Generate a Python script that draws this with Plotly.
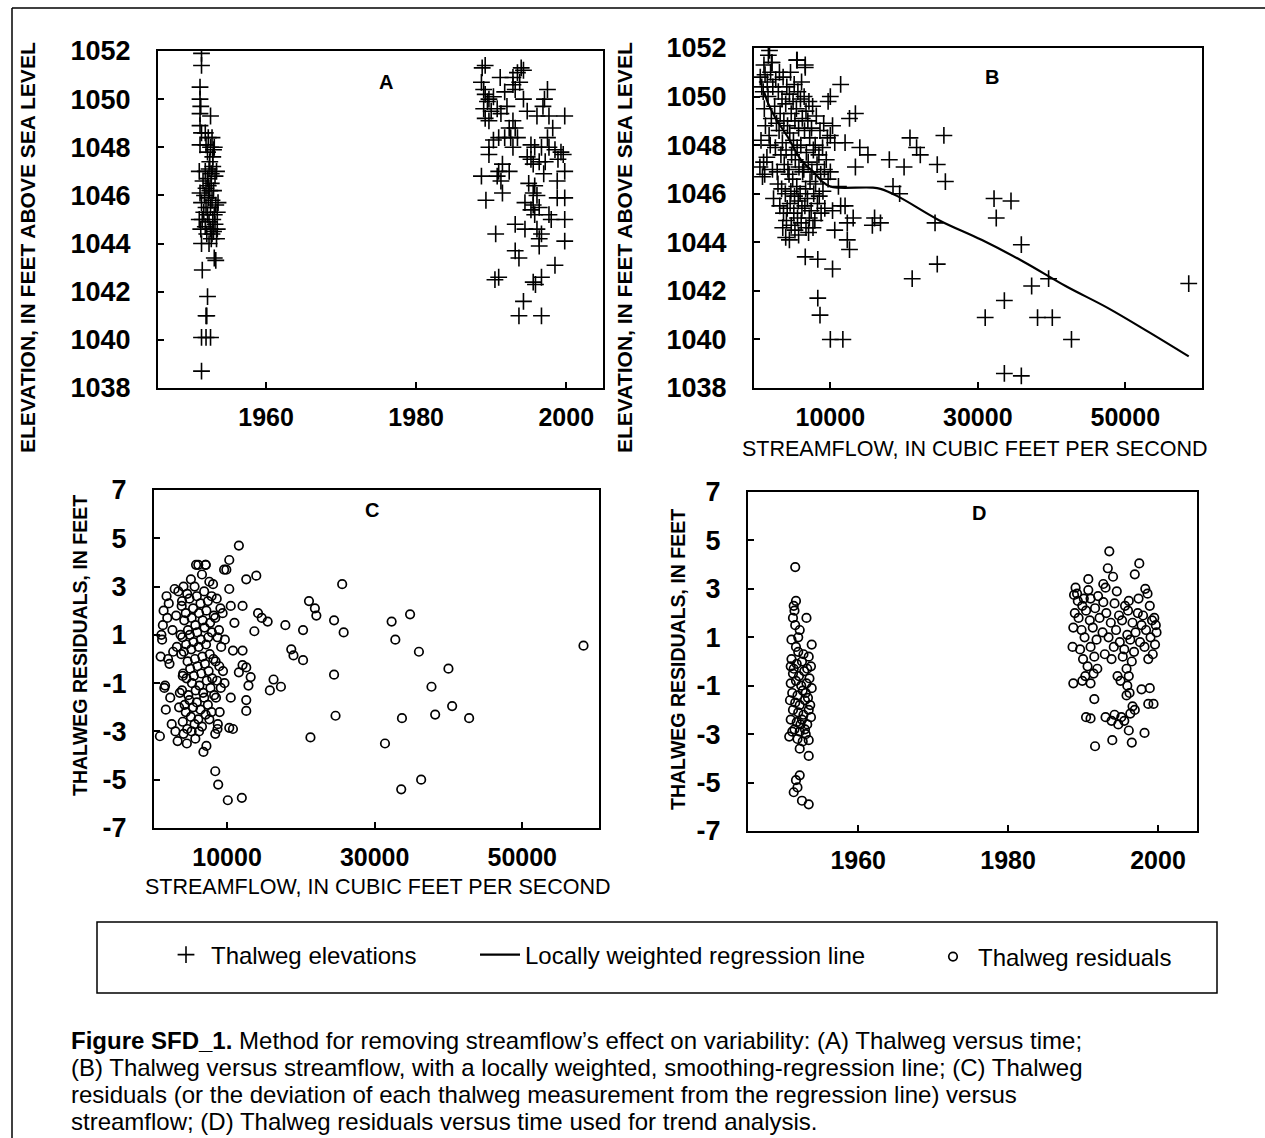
import plotly.graph_objects as go

W, H = 1265, 1138

# ---------------- DATA ----------------
# Panel A: thalweg elevation vs time (year, elevation)
A_early = [(1951.4,1051.9),(1951.4,1051.4),(1951.2,1050.5),(1951.2,1050.0),(1951.3,1049.7),(1951.2,1049.4),
           (1952.6,1049.3),(1951.2,1048.9),(1951.4,1048.6),(1951.9,1048.6),(1952.3,1048.4),(1952.8,1048.4),
           (1951.2,1048.1),(1952.0,1048.1),(1952.6,1048.0),(1953.1,1048.0),(1952.9,1047.6),(1952.5,1047.4),
           (1951.1,1047.0),(1951.9,1047.0),(1952.4,1047.1),(1952.9,1047.2),(1953.2,1046.8),(1952.2,1046.7),
           (1951.6,1046.6),(1952.7,1046.5),(1952.0,1046.3),(1952.5,1046.2),(1951.2,1046.1),(1951.8,1046.0),
           (1952.3,1045.9),(1952.8,1045.8),(1951.4,1045.7),(1953.3,1045.6),(1952.0,1045.5),(1952.6,1045.5),
           (1951.7,1045.3),(1953.5,1045.3),(1952.2,1045.2),(1951.1,1045.0),(1951.5,1045.0),(1952.9,1045.0),
           (1952.4,1044.9),(1953.2,1044.8),(1951.9,1044.7),(1952.6,1044.6),(1951.3,1044.6),(1953.0,1044.5),
           (1952.1,1044.4),(1952.7,1044.2),(1953.4,1044.2),(1951.4,1044.0),(1952.4,1044.0),(1953.1,1043.4),
           (1953.3,1043.3),(1951.5,1042.9),(1952.2,1041.8),(1952.0,1041.0),(1952.1,1041.0),(1951.4,1040.1),
           (1952.0,1040.1),(1952.6,1040.1),(1951.4,1038.7),(1953.0,1047.9),(1952.2,1047.8),(1953.4,1047.0),
           (1952.7,1046.9),(1953.6,1045.7),(1953.0,1046.2),(1952.3,1046.4),(1953.5,1044.6),(1952.8,1044.4),
           (1953.1,1045.2)]
A_late = [(1988.8,1051.3),(1989.2,1051.4),(1991.2,1050.9),(1992.9,1050.9),(1993.5,1051.1),(1994.0,1051.3),
          (1994.3,1051.2),(1992.9,1050.6),(1993.2,1050.4),(1988.7,1050.7),(1989.0,1050.4),(1989.2,1050.2),
          (1989.7,1050.0),(1991.8,1050.3),(1994.3,1050.0),(1997.5,1050.4),(1997.1,1050.0),(1996.9,1049.7),
          (1994.8,1049.5),(1989.0,1049.6),(1990.0,1049.5),(1990.8,1049.6),(1991.3,1049.4),(1989.2,1049.2),
          (1989.7,1049.1),(1996.1,1049.3),(1997.7,1049.3),(1999.8,1049.3),(1992.9,1049.1),(1992.4,1048.8),
          (1993.2,1048.8),(1998.2,1048.8),(1997.5,1048.4),(1991.0,1048.4),(1990.3,1048.3),(1991.8,1048.4),
          (1992.6,1048.4),(1993.5,1048.4),(1989.7,1048.0),(1992.9,1048.0),(1995.3,1048.1),(1995.8,1048.0),
          (1996.7,1048.0),(1997.7,1048.0),(1998.5,1047.9),(1999.3,1047.8),(1999.6,1047.7),(1989.7,1047.7),
          (1995.3,1047.5),(1994.8,1047.6),(1996.4,1047.4),(1997.2,1047.4),(1995.6,1047.3),(1991.5,1047.3),
          (1991.0,1047.0),(1992.4,1047.0),(1999.8,1047.0),(1988.7,1046.8),(1990.8,1046.8),(1991.3,1046.6),
          (1998.8,1046.6),(1995.0,1046.5),(1995.8,1046.4),(1995.6,1046.1),(1991.5,1046.1),(1996.1,1046.0),
          (1998.8,1045.9),(1999.8,1045.9),(1989.3,1045.8),(1994.5,1045.7),(1995.6,1045.6),(1995.3,1045.4),
          (1996.4,1045.5),(1995.8,1045.2),(1997.7,1045.2),(1998.0,1045.0),(1999.8,1045.0),(1993.2,1044.8),
          (1994.5,1044.6),(1996.1,1044.6),(1996.7,1044.4),(1990.6,1044.4),(1996.4,1044.2),(1999.8,1044.1),
          (1996.4,1043.9),(1993.2,1043.7),(1993.7,1043.4),(1998.5,1043.1),(1991.0,1042.6),(1990.5,1042.5),
          (1996.7,1042.6),(1995.9,1042.3),(1995.6,1042.4),(1994.3,1041.6),(1993.7,1041.0),(1996.7,1041.0),
          (1989.5,1049.9),(1990.3,1050.1),(1993.8,1050.7),(1992.1,1049.7),(1998.9,1047.5),(1997.0,1046.9)]

# Panel B: elevation vs streamflow (cfs, elevation)
B_points = [(1750,1051.9),(2030,1051.4),(5450,1051.5),(6600,1051.3),(11400,1050.5),(10000,1050.0),
            (9700,1049.8),(13400,1049.3),(12600,1049.1),(10300,1048.8),(20800,1048.3),(21700,1047.9),
            (22200,1047.6),(25400,1048.4),(14000,1047.9),(15100,1047.6),(18000,1047.4),(20000,1047.1),
            (13400,1047.1),(24500,1047.2),(25600,1046.5),(18500,1046.3),(19400,1046.0),(32200,1045.8),
            (34500,1045.7),(32500,1045.0),(24200,1044.8),(16000,1045.0),(16800,1044.8),(15700,1044.7),
            (35900,1043.9),(24500,1043.1),(21100,1042.5),(39600,1042.5),(37300,1042.2),(33600,1041.6),
            (31000,1040.9),(38100,1040.9),(40100,1040.9),(42700,1040.0),(33600,1038.6),(35900,1038.5),
            (58600,1042.3),(8300,1041.7),(8600,1041.0),(10000,1040.0),(11700,1040.0),(6600,1043.4),
            (8300,1043.3),(10300,1042.9),(12300,1044.1),(12600,1043.7),(12000,1045.5),(13100,1045.0),
            (12300,1044.8),(10600,1044.5),(11400,1045.5),(10300,1045.3),(11100,1046.3),(10000,1046.9),
            (10600,1048.1),(12000,1048.1),(10000,1048.4),
            (500,1050.8),(700,1050.4),(600,1048.2),(450,1047.1),(800,1046.7),
            (1000,1051.3),(1150,1050.9),(900,1050.2),(1050,1049.5),(1200,1048.8),(950,1047.3),(1100,1046.8),
            (1600,1051.7),(1450,1050.6),(1550,1050.0),(1700,1048.4),(1400,1047.5),
            (2100,1051.4),(1900,1051.0),(2200,1050.4),(2000,1049.1),(1850,1048.0),(2150,1047.0),(2300,1045.8),
            (2600,1050.7),(2450,1049.6),(2700,1048.9),(2550,1047.9),(2800,1046.9),
            (3100,1051.0),(2950,1050.2),(3200,1049.3),(3050,1048.6),(3300,1047.6),(2900,1046.4),(3150,1045.5),
            (3600,1050.8),(3450,1049.9),(3700,1049.0),(3500,1048.1),(3750,1047.2),(3400,1046.2),(3650,1045.2),
            (3550,1044.6),
            (4100,1050.4),(3950,1049.7),(4200,1048.8),(4000,1047.8),(4250,1047.0),(3900,1046.0),(4150,1045.4),
            (4050,1044.9),(3950,1044.2),
            (4600,1051.0),(4450,1050.1),(4700,1049.3),(4500,1048.5),(4750,1047.6),(4400,1046.8),(4650,1046.1),
            (4550,1045.6),(4700,1044.7),(4450,1044.1),
            (5100,1050.5),(4950,1049.8),(5200,1049.0),(5000,1048.2),(5250,1047.4),(4900,1046.6),(5150,1045.9),
            (5050,1045.2),(5200,1044.5),
            (5500,1051.5),(5600,1050.2),(5400,1049.5),(5700,1048.7),(5500,1047.9),(5750,1047.1),(5450,1046.3),
            (5650,1045.7),(5550,1045.0),(5700,1044.3),
            (6100,1050.6),(5950,1049.9),(6200,1049.1),(6000,1048.0),(6250,1046.9),(5900,1046.0),(6150,1045.4),
            (6050,1044.8),
            (6600,1051.2),(6450,1050.0),(6700,1049.4),(6500,1048.6),(6750,1047.7),(6400,1047.0),(6650,1046.2),
            (6550,1045.5),(6700,1044.6),
            (7100,1049.8),(6950,1049.0),(7200,1048.3),(7000,1047.3),(7250,1046.5),(6900,1045.8),(7150,1045.0),
            (7050,1044.4),
            (7600,1049.6),(7450,1048.7),(7700,1047.8),(7500,1046.9),(7750,1046.0),(7400,1045.3),(7650,1044.6),
            (8100,1049.2),(7950,1048.0),(8200,1047.2),(8000,1046.4),(8250,1045.6),(7900,1044.9),
            (8600,1048.6),(8450,1047.6),(8700,1046.8),(8500,1045.9),(8750,1045.2),
            (9100,1048.9),(8950,1047.9),(9200,1047.0),(9000,1046.1),(9250,1045.4),
            (9600,1048.3),(9450,1047.4),(9700,1046.6)]

# Panel B: locally weighted regression line (cfs, elevation)
loess_flow = [1000, 1600, 2600, 4300, 6000, 7700, 8900, 10000, 11100, 15700, 16800, 19100,
              24800, 30500, 36200, 41900, 47600, 53200, 58600]
loess_elev = [1050.2, 1049.7, 1049.1, 1048.3, 1047.4, 1046.9, 1046.5, 1046.3, 1046.25, 1046.25,
              1046.2, 1045.9, 1044.9, 1044.1, 1043.2, 1042.2, 1041.3, 1040.3, 1039.3]

# Panel C: residuals vs streamflow (cfs, residual ft)
C_points = [(11600,4.7),(10300,4.1),(9900,3.7),(13960,3.45),(12600,3.3),(5800,3.9),(7100,3.9),
            (25600,3.1),(21100,2.4),(21900,2.1),(22100,1.8),(24500,1.6),(25800,1.1),(17900,1.4),
            (20300,1.2),(14200,1.9),(14700,1.7),(15500,1.55),(13700,1.15),(18700,0.4),(19000,0.15),
            (20300,-0.05),(24500,-0.65),(16300,-0.85),(15800,-1.3),(17300,-1.15),(24700,-2.35),
            (21300,-3.25),(10500,-1.6),(12600,-1.7),(12600,-2.15),(10300,-2.85),(10800,-2.9),
            (8700,-2.9),(8400,-3.1),(6800,-3.85),(8400,-4.65),(8800,-5.2),(10100,-5.85),(12000,-5.75),
            (32300,1.55),(34800,1.85),(32800,0.8),(36000,0.3),(40000,-0.4),(37700,-1.15),(40500,-1.95),
            (38200,-2.3),(33700,-2.45),(42800,-2.45),(31400,-3.5),(33600,-5.4),(36300,-5.0),(58300,0.55),
            (12100,2.2),(10500,2.2),(10300,2.9),(11000,1.5),(10800,0.35),(12100,0.35),(12100,-0.25),
            (12600,-0.35),(13200,-0.75),(12900,-1.1),(11600,-0.55),
            (900,-3.2),(1000,0.1),(1100,1.0),(1200,0.8),(1300,1.4),(1500,-1.2),(1600,-1.1),(1700,-2.1),
            (1400,2.0),(1800,2.6),(1900,1.7),(2100,2.3),(2000,0.0),(2300,-1.6),(2200,-0.2),(2500,-2.7),
            (2700,0.3),(2600,1.2),(2900,2.9),(3000,-3.0),(3100,1.8),(3300,-3.4),(3200,0.5),(3400,2.8),
            (3500,-2.0),(3600,-1.4),(3700,1.0),(3800,0.2),(3900,2.4),(4000,-0.7),
            (4100,3.0),(3850,2.2),(4200,1.6),(3950,0.9),(4150,0.3),(4050,-0.6),(3900,-1.3),(4250,-1.9),
            (4000,-2.6),(4100,-3.1),
            (4600,2.7),(4400,1.9),(4700,1.2),(4450,0.6),(4650,-0.1),(4500,-0.8),(4750,-1.5),(4400,-2.2),
            (4600,-2.9),(4550,-3.5),
            (5100,3.3),(4900,2.5),(5200,1.7),(4950,1.0),(5150,0.4),(5000,-0.4),(5250,-1.0),(4900,-1.7),
            (5100,-2.4),(5200,-3.0),
            (5600,3.0),(5400,2.1),(5700,1.4),(5450,0.7),(5650,0.0),(5500,-0.7),(5750,-1.3),(5400,-2.0),
            (5600,-2.7),(5700,-3.3),
            (6100,3.9),(5900,2.6),(6200,1.9),(5950,1.1),(6150,0.5),(6000,-0.3),(6250,-1.1),(5900,-1.8),
            (6100,-2.5),(6200,-3.0),
            (6600,3.5),(6400,2.3),(6700,1.6),(6450,0.8),(6650,0.1),(6500,-0.6),(6750,-1.4),(6400,-2.1),
            (6600,-2.8),
            (7100,3.9),(6900,2.8),(7200,2.0),(6950,1.3),(7150,0.6),(7000,-0.2),(7250,-0.9),(6900,-1.6),
            (7100,-2.3),(7200,-3.6),
            (7600,3.2),(7400,2.4),(7700,1.5),(7450,0.9),(7650,0.2),(7500,-0.5),(7750,-1.2),(7400,-1.9),
            (7600,-2.5),
            (8100,3.1),(7900,2.6),(8200,1.8),(7950,1.1),(8150,0.0),(8000,-0.8),(8250,-1.5),(7900,-2.2),
            (8600,2.5),(8400,1.7),(8700,0.9),(8450,-0.1),(8650,-0.9),(8500,-1.6),(8750,-2.7),
            (9100,2.1),(8900,1.2),(9200,0.5),(8950,-0.3),(9150,-1.2),(9000,-2.2),
            (9600,3.7),(9400,1.9),(9700,0.8),(9450,-0.5),(9650,-1.0)]

# Panel D: residuals vs time (year, residual ft)
D_early = [(1951.6,3.9),(1951.7,2.5),(1951.4,2.3),(1951.5,2.1),(1951.3,1.8),(1953.1,1.8),(1951.6,1.5),
           (1952.2,1.3),(1951.1,0.9),(1952.0,1.0),(1951.7,0.6),(1953.8,0.7),(1953.4,0.2),(1951.1,0.1),
           (1951.0,-0.2),(1951.8,-0.1),(1952.5,0.0),(1953.2,-0.3),(1953.7,-0.2),(1951.3,-0.5),(1952.1,-0.6),
           (1952.8,-0.4),(1953.5,-0.7),(1951.0,-0.9),(1951.7,-0.8),(1952.4,-1.0),(1953.1,-0.9),(1953.8,-1.1),
           (1951.2,-1.3),(1951.9,-1.4),(1952.6,-1.2),(1953.3,-1.5),(1950.9,-1.6),(1951.6,-1.7),(1952.2,-1.8),
           (1952.9,-1.6),(1953.6,-1.8),(1951.3,-2.0),(1952.0,-2.1),(1952.7,-2.2),(1953.4,-2.0),(1951.0,-2.4),
           (1951.8,-2.5),(1952.5,-2.4),(1953.2,-2.6),(1953.7,-2.3),(1951.5,-2.8),(1952.2,-2.9),(1952.9,-2.8),
           (1950.8,-3.1),(1951.9,-3.2),(1953.4,-3.25),(1952.6,-3.3),(1952.2,-3.6),(1953.4,-3.9),(1952.2,-4.7),
           (1951.7,-4.9),(1951.9,-5.2),(1951.4,-5.4),(1952.5,-5.75),(1953.4,-5.9),(1952.0,0.4),(1952.7,0.3),
           (1951.4,-0.3),(1953.0,-1.3),(1952.3,-2.6),(1953.0,-3.0),(1951.2,-2.9)]
D_late = [(1993.5,4.55),(1997.5,4.05),(1993.3,3.85),(1996.9,3.6),(1994.0,3.5),(1990.7,3.4),(1992.7,3.2),
          (1993.0,3.05),(1989.0,3.05),(1998.3,3.0),(1990.7,2.95),(1998.6,2.8),(1988.8,2.75),(1991.0,2.6),
          (1989.3,2.5),(1992.7,2.45),(1989.9,2.3),(1994.2,2.4),(1995.6,2.3),(1996.0,2.1),(1997.3,2.0),
          (1988.9,2.0),(1990.4,2.1),(1991.6,2.2),(1993.1,2.0),(1994.8,1.9),(1998.0,1.9),(1999.5,1.8),
          (1999.2,1.7),(1989.4,1.8),(1990.9,1.7),(1992.2,1.8),(1993.7,1.6),(1995.2,1.7),(1996.6,1.6),
          (1997.8,1.5),(1999.7,1.5),(1988.7,1.4),(1989.8,1.3),(1991.3,1.4),(1992.6,1.2),(1994.4,1.3),
          (1995.9,1.1),(1997.0,1.2),(1998.4,1.3),(1990.2,1.0),(1991.8,0.9),(1993.4,1.0),(1994.9,0.8),
          (1996.3,0.9),(1997.6,0.8),(1999.0,1.0),(1999.6,0.7),(1988.6,0.6),(1989.6,0.5),(1991.0,0.6),
          (1992.9,0.3),(1994.1,0.6),(1995.5,0.5),(1996.8,0.4),(1998.2,0.6),(1999.3,0.3),(1990.0,0.1),
          (1991.5,0.2),(1993.8,0.1),(1995.3,0.2),(1996.5,0.0),(1998.7,0.1),(1990.6,-0.2),(1991.9,-0.3),
          (1995.8,-0.3),(1996.1,-0.6),(1990.3,-0.6),(1991.4,-0.5),(1994.6,-0.6),(1995.0,-0.8),(1988.7,-0.9),
          (1989.9,-0.8),(1991.0,-0.9),(1995.9,-1.0),(1996.2,-1.3),(1997.8,-1.15),(1998.9,-1.1),(1991.5,-1.55),
          (1995.8,-1.4),(1998.7,-1.75),(1999.4,-1.75),(1996.6,-1.85),(1990.4,-2.3),(1991.0,-2.35),
          (1993.0,-2.3),(1993.8,-2.45),(1994.7,-2.6),(1995.5,-2.45),(1996.3,-2.15),(1996.1,-2.85),
          (1996.5,-3.35),(1998.2,-2.95),(1993.9,-3.25),(1991.6,-3.5),(1994.2,-2.2),(1995.1,-2.3),
          (1996.9,-2.0),(1989.2,2.8),(1990.1,2.6),(1992.0,2.7),(1994.5,2.9),(1996.1,2.5),(1997.4,2.6),
          (1998.9,2.3),(1999.8,1.2)]

# Tick labels
elev_ticks = [1038, 1040, 1042, 1044, 1046, 1048, 1050, 1052]
year_ticks = [1960, 1980, 2000]
flow_ticks = [10000, 30000, 50000]
flow_ticktext = ["10000", "30000", "50000"]
resid_ticks = [-7, -5, -3, -1, 1, 3, 5, 7]
resid_ticktext = ["-7", "-5", "-3", "-1", "1", "3", "5", "7"]

legend_names = ["Thalweg elevations", "Locally weighted regression line", "Thalweg residuals"]
caption_lines = [
    "<b>Figure SFD_1.</b> Method for removing streamflow\u2019s effect on variability: (A) Thalweg versus time;",
    "(B) Thalweg versus streamflow, with a locally weighted, smoothing-regression line; (C) Thalweg",
    "residuals (or the deviation of each thalweg measurement from the regression line) versus",
    "streamflow; (D) Thalweg residuals versus time used for trend analysis.",
]

# ---------------- FIGURE ----------------
def px(x):
    return x / W

def py(y):
    return 1 - y / H

def xs(pts):
    return [p[0] for p in pts]

def ys(pts):
    return [p[1] for p in pts]

FONT = "Liberation Sans, Arial, sans-serif"
cross = dict(symbol="cross-thin-open", size=12, color="black", line=dict(width=1.6, color="black"))
circ = dict(symbol="circle-open", size=8.5, color="black", line=dict(width=1.7, color="black"))

fig = go.Figure()
fig.add_trace(go.Scatter(x=xs(A_early) + xs(A_late), y=ys(A_early) + ys(A_late), mode="markers",
                         marker=cross, name=legend_names[0], legend="legend", xaxis="x", yaxis="y"))
fig.add_trace(go.Scatter(x=xs(B_points), y=ys(B_points), mode="markers", marker=cross,
                         showlegend=False, xaxis="x2", yaxis="y2"))
fig.add_trace(go.Scatter(x=loess_flow, y=loess_elev, mode="lines", line=dict(color="black", width=2.2),
                         line_shape="spline", name=legend_names[1], legend="legend2",
                         xaxis="x2", yaxis="y2"))
fig.add_trace(go.Scatter(x=xs(C_points), y=ys(C_points), mode="markers", marker=circ,
                         name=legend_names[2], legend="legend3", xaxis="x3", yaxis="y3"))
fig.add_trace(go.Scatter(x=xs(D_early) + xs(D_late), y=ys(D_early) + ys(D_late), mode="markers",
                         marker=circ, showlegend=False, xaxis="x4", yaxis="y4"))

ytickfont = dict(family=FONT, size=27, color="black", weight="bold")
xtickfont = dict(family=FONT, size=25, color="black", weight="bold")
common = dict(showline=True, linewidth=2, linecolor="black", mirror=True, ticks="inside", ticklen=6,
              tickwidth=1.5, tickcolor="black", showgrid=False, zeroline=False, automargin=False)

def xax(domain, rng, vals, anchor, text=None):
    d = dict(common, domain=[px(domain[0]), px(domain[1])], range=rng, tickvals=vals,
             ticklabelstandoff=6, anchor=anchor, tickfont=xtickfont)
    if text is not None:
        d["ticktext"] = text
    return d

def yax(domain, rng, vals, anchor, text=None):
    d = dict(common, domain=[py(domain[1]), py(domain[0])], range=rng, tickvals=vals,
             ticklabelstandoff=20, anchor=anchor, tickfont=ytickfont)
    if text is not None:
        d["ticktext"] = text
    return d

legfont = dict(family=FONT, size=24, color="black")

def leg(x, y):
    return dict(orientation="h", x=px(x), y=py(y), xanchor="left", yanchor="middle",
                bgcolor="rgba(0,0,0,0)", font=legfont, itemwidth=40, borderwidth=0)

fig.update_layout(
    width=W, height=H, margin=dict(l=0, r=0, t=0, b=0, autoexpand=False),
    paper_bgcolor="white", plot_bgcolor="white",
    font=dict(family=FONT, color="black"),
    xaxis=xax((158, 603), [1945.6, 2004.9], year_ticks, "y"),
    yaxis=yax((51, 388), [1038, 1052], elev_ticks, "x"),
    xaxis2=xax((754, 1202), [-350, 60400], flow_ticks, "y2", flow_ticktext),
    yaxis2=yax((48, 388), [1038, 1052], elev_ticks, "x2"),
    xaxis3=xax((154, 599), [100, 60400], flow_ticks, "y3", flow_ticktext),
    yaxis3=yax((490, 828), [-7, 7], resid_ticks, "x3", resid_ticktext),
    xaxis4=xax((748, 1197), [1945.3, 2005.2], year_ticks, "y4"),
    yaxis4=yax((492, 831), [-7, 7], resid_ticks, "x4", resid_ticktext),
    showlegend=True,
    legend=leg(161, 955),
    legend2=leg(475, 955),
    legend3=leg(928, 957),
)

ann = []
for txt, x, y in [("A", 386, 82), ("B", 992, 77), ("C", 372, 510), ("D", 979, 513)]:
    ann.append(dict(text=txt, x=px(x), y=py(y), xref="paper", yref="paper", showarrow=False,
                    xanchor="center", yanchor="middle",
                    font=dict(family=FONT, size=20, weight="bold")))
for txt, x, y, size in [("ELEVATION, IN FEET ABOVE SEA LEVEL", 28, 248, 21),
                        ("ELEVATION, IN FEET ABOVE SEA LEVEL", 625, 248, 21),
                        ("THALWEG RESIDUALS, IN FEET", 80, 646, 19.5),
                        ("THALWEG RESIDUALS, IN FEET", 678, 660, 19.5)]:
    ann.append(dict(text=txt, x=px(x), y=py(y), xref="paper", yref="paper", showarrow=False,
                    xanchor="center", yanchor="middle",
                    textangle=-90, font=dict(family=FONT, size=size, weight="bold")))
for x, y in [(975, 449), (378, 887)]:
    ann.append(dict(text="STREAMFLOW, IN CUBIC FEET PER SECOND", x=px(x), y=py(y), xref="paper",
                    yref="paper", showarrow=False, xanchor="center", yanchor="middle",
                    font=dict(family=FONT, size=21.5)))
for i, line in enumerate(caption_lines):
    ann.append(dict(text=line, x=px(70), y=py(1040 + 27 * i), xref="paper", yref="paper",
                    xanchor="left", yanchor="middle", showarrow=False, borderpad=0,
                    font=dict(family=FONT, size=24)))
fig.update_layout(annotations=ann)

shapes = [
    dict(type="line", xref="paper", yref="paper", x0=px(12), x1=px(12), y0=py(8), y1=py(1138),
         line=dict(color="black", width=1.5)),
    dict(type="line", xref="paper", yref="paper", x0=px(12), x1=px(1265), y0=py(8), y1=py(8),
         line=dict(color="black", width=1.5)),
    dict(type="rect", xref="paper", yref="paper", x0=px(97), x1=px(1217), y0=py(993), y1=py(922),
         line=dict(color="black", width=1.5)),
]
fig.update_layout(shapes=shapes)

fig.write_html("out.html")
